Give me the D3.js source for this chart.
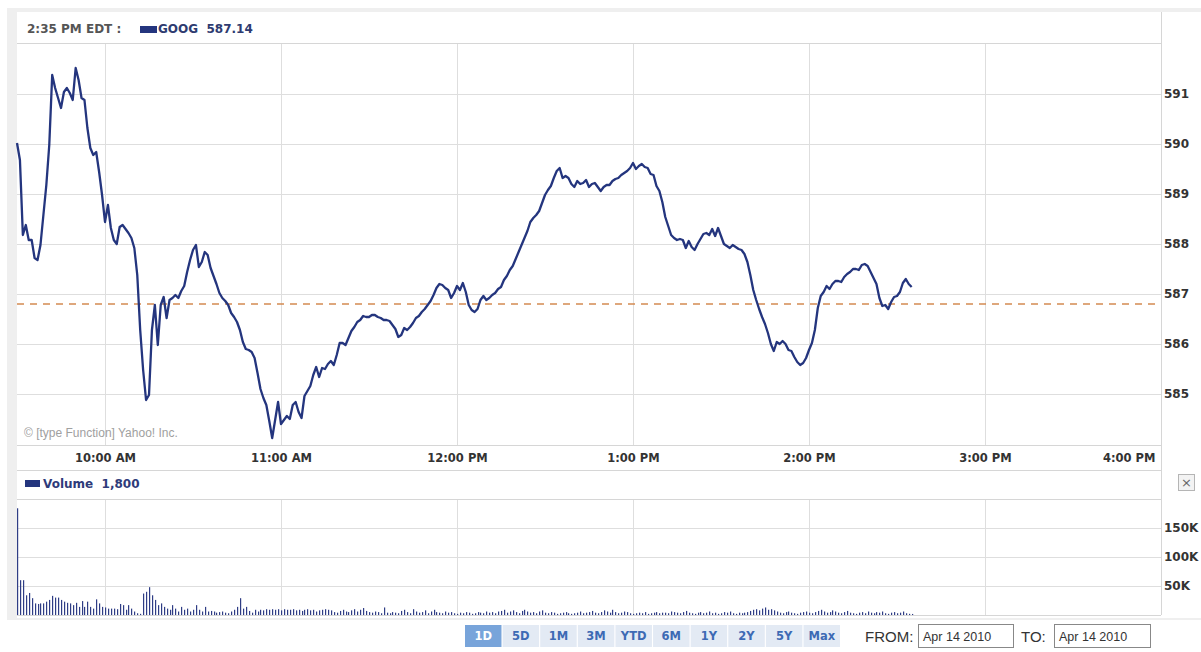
<!DOCTYPE html>
<html>
<head>
<meta charset="utf-8">
<script src="https://cdn.jsdelivr.net/npm/d3@7"></script>
<style>
  body { margin: 0; background: #fff; }
  svg { display: block; }
  .lbl { font-family: "DejaVu Sans", Verdana, sans-serif; font-weight: bold; fill: #333; }
</style>
</head>
<body>
<div id="chart"></div>
<script>
// minutes after 9:30 AM, one reading per minute (Apr 14 2010)
const prices = [
  590.02,589.68,588.18,588.38,588.08,588.08,587.72,587.68,587.98,588.58,
  589.18,589.98,591.38,591.12,590.92,590.72,591.04,591.12,591.02,590.88,
  591.52,591.28,590.92,590.88,590.32,589.92,589.78,589.84,589.44,588.98,
  588.44,588.78,588.32,588.08,588.00,588.34,588.38,588.30,588.22,588.12,
  587.92,587.38,586.28,585.48,584.88,584.98,586.28,586.78,585.98,586.78,
  586.94,586.52,586.88,586.92,586.98,586.92,587.06,587.16,587.44,587.68,
  587.88,587.98,587.54,587.64,587.84,587.78,587.52,587.36,587.20,587.02,
  586.92,586.86,586.78,586.62,586.54,586.44,586.28,586.04,585.90,585.88,
  585.84,585.72,585.42,585.10,584.92,584.78,584.46,584.12,584.48,584.84,
  584.40,584.48,584.56,584.50,584.78,584.84,584.64,584.52,584.96,585.06,
  585.16,585.38,585.54,585.34,585.52,585.50,585.60,585.66,585.58,585.78,
  586.02,586.02,585.98,586.12,586.26,586.34,586.44,586.48,586.56,586.54,
  586.54,586.58,586.58,586.54,586.52,586.48,586.48,586.46,586.38,586.30,
  586.14,586.18,586.32,586.28,586.34,586.42,586.52,586.56,586.64,586.70,
  586.78,586.86,586.98,587.12,587.20,587.18,587.12,587.08,586.92,587.02,
  587.16,587.08,587.22,587.04,586.78,586.68,586.64,586.70,586.88,586.96,
  586.88,586.92,586.98,587.02,587.10,587.14,587.28,587.36,587.48,587.56,
  587.70,587.84,587.98,588.12,588.26,588.44,588.52,588.58,588.66,588.82,
  588.98,589.08,589.16,589.32,589.46,589.52,589.32,589.36,589.32,589.20,
  589.14,589.26,589.20,589.22,589.28,589.14,589.20,589.22,589.14,589.06,
  589.14,589.18,589.18,589.26,589.30,589.32,589.38,589.42,589.46,589.52,
  589.62,589.50,589.56,589.60,589.54,589.52,589.40,589.38,589.16,589.06,
  588.84,588.54,588.36,588.18,588.12,588.08,588.10,588.08,587.92,588.06,
  587.94,587.88,588.00,588.10,588.20,588.22,588.18,588.30,588.16,588.32,
  588.16,588.00,587.96,587.92,587.98,587.94,587.90,587.88,587.80,587.64,
  587.38,587.08,586.88,586.70,586.54,586.40,586.22,586.00,585.86,586.04,
  586.00,586.06,586.00,585.88,585.86,585.74,585.64,585.58,585.62,585.72,
  585.88,586.02,586.28,586.72,586.96,587.04,587.16,587.10,587.20,587.26,
  587.26,587.24,587.34,587.40,587.44,587.50,587.50,587.48,587.58,587.60,
  587.56,587.44,587.32,587.20,586.92,586.76,586.78,586.70,586.84,586.94,
  586.96,587.04,587.22,587.30,587.20,587.14
];

// volume per minute, thousands of shares
const volumes = [
  184,60,60,34,38,29,20,19,20,20,23,26,33,30,30,26,23,21,20,17,
  21,14,24,14,23,14,11,27,20,14,13,11,11,11,10,19,17,9,17,11,
  6,3,2,37,40,48,34,26,17,20,14,11,9,17,11,6,14,9,11,6,
  9,17,9,6,14,6,7,6,4,5,6,4,3,6,9,14,29,11,14,7,
  4,9,6,9,8,10,9,10,
  9,10,8,10,9,9,10,8,9,7,9,10,8,9,6,8,9,10,9,8,5,4,7,9,6,5,8,10,6,9,12,7,5,
  4,6,5,3,13,4,3,5,4,3,7,9,5,3,10,6,4,5,8,3,6,9,5,4,3,6,4,5,3,2,4,3,5,4,2,3,5,4,3,6,
  4,5,3,6,7,9,4,6,8,5,3,7,9,6,4,5,3,6,8,4,3,5,4,2,3,4,5,3,2,3,
  4,6,3,4,5,7,4,3,5,8,6,4,9,5,3,4,6,5,3,2,3,4,3,5,2,3,4,5,3,4,
  4,3,6,5,4,3,5,7,4,3,2,4,5,3,4,6,3,4,2,3,5,4,6,3,2,4,3,4,5,7,
  9,10,8,11,13,9,10,8,6,4,3,5,6,4,3,2,4,5,6,4,
  3,5,7,9,6,4,5,8,6,4,3,5,7,4,3,2,4,5,3,6,4,3,5,4,6,3,2,4,5,3,4,6,3,2,1.8
];

const priceTicks = [585, 586, 587, 588, 589, 590, 591];
const volumeTicks = [50000, 100000, 150000];
const previousClose = 586.8;
const symbol = "GOOG";
const lastTime = "2:35 PM EDT :";
const ranges = ["1D", "5D", "1M", "3M", "YTD", "6M", "1Y", "2Y", "5Y", "Max"];
const fromDate = "Apr 14 2010", toDate = "Apr 14 2010";

const W = 1201, H = 652;
const left = 17, right = 1161;
const navy = "#24357e";

const open = new Date(2010, 3, 14, 9, 30);
const close = new Date(2010, 3, 14, 16, 0);
const minute = (i) => new Date(open.getTime() + i * 60000);

const svg = d3.select('#chart').append('svg')
              .attr('width', W)
              .attr('height', H);

// frame
svg.append('rect').attr('x', 7).attr('y', 8).attr('width', W - 7).attr('height', 612).attr('fill', '#efefef');
svg.append('rect').attr('x', left).attr('y', 12).attr('width', W - left).attr('height', 606).attr('fill', '#fff');

const x = d3.scaleTime().domain([open, close]).range([left, right]);
const y = d3.scaleLinear().domain([583.98, 592.02]).range([445, 43]);
const yv = d3.scaleLinear().domain([0, 200000]).range([615, 499]);
const hours = x.ticks(d3.timeHour.every(1)).filter(d => d > open);

// ---- price panel ----
const grid = svg.append('g').attr('stroke', '#dedede').attr('stroke-width', 1).attr('shape-rendering', 'crispEdges');
grid.selectAll('.hp').data(priceTicks).enter().append('line')
    .attr('x1', left).attr('x2', right).attr('y1', d => y(d)).attr('y2', d => y(d));
grid.selectAll('.vp').data(hours).enter().append('line')
    .attr('x1', d => x(d)).attr('x2', d => x(d)).attr('y1', 43).attr('y2', 445);

// panel borders
const borders = svg.append('g').attr('stroke', '#d6d6d6').attr('shape-rendering', 'crispEdges');
[43, 445, 470, 499, 615].forEach(v => {
  borders.append('line').attr('x1', left).attr('x2', right).attr('y1', v).attr('y2', v);
});
borders.append('line').attr('x1', right).attr('x2', right).attr('y1', 12).attr('y2', 615);

// previous close
svg.append('line')
   .attr('x1', left).attr('x2', right)
   .attr('y1', y(previousClose)).attr('y2', y(previousClose))
   .attr('stroke', '#d48a52').attr('stroke-width', 1.3)
   .attr('stroke-dasharray', '7,6');

// copyright
svg.append('text').attr('x', 24).attr('y', 437)
   .attr('font-family', '"Liberation Sans", Arial, sans-serif').attr('font-size', 12)
   .attr('fill', '#a0a0a0').text('\u00a9 [type Function] Yahoo! Inc.');

const line = d3.line().x((d, i) => x(minute(i))).y(d => y(d));
svg.append('path').datum(prices)
   .attr('d', line)
   .attr('fill', 'none')
   .attr('stroke', navy)
   .attr('stroke-width', 2.3)
   .attr('stroke-linejoin', 'round');

// right price axis
const yAxis = svg.append('g')
   .attr('transform', `translate(${right},0)`)
   .call(d3.axisRight(y).tickValues(priceTicks).tickSize(0).tickPadding(3).tickFormat(d3.format('d')));
yAxis.select('.domain').remove();
yAxis.selectAll('text').attr('class', 'lbl').attr('font-size', 12);

// time axis
const xAxis = svg.append('g')
   .attr('transform', 'translate(0,451)')
   .call(d3.axisBottom(x).tickValues(hours).tickSize(0).tickFormat(d3.timeFormat('%-I:%M %p')));
xAxis.select('.domain').remove();
xAxis.selectAll('text').attr('class', 'lbl').attr('font-size', 11.5).attr('dy', '0.71em');
xAxis.selectAll('.tick').filter(d => +d === +close).select('text')
     .attr('text-anchor', 'end').attr('x', -6);

// header
const headFont = '"DejaVu Sans", Verdana, sans-serif';
svg.append('text').attr('x', 27).attr('y', 33)
   .attr('font-family', headFont).attr('font-weight', 'bold').attr('font-size', 12)
   .attr('fill', '#555').text(lastTime);
svg.append('rect').attr('x', 140).attr('y', 26).attr('width', 17).attr('height', 7).attr('fill', navy);
svg.append('text').attr('x', 158).attr('y', 33)
   .attr('font-family', headFont).attr('font-weight', 'bold').attr('font-size', 12)
   .attr('fill', '#2e3b70').attr('xml:space', 'preserve')
   .text(symbol + '  ' + prices[prices.length - 1].toFixed(2));

// ---- volume panel ----
grid.selectAll('.hv').data(volumeTicks).enter().append('line')
    .attr('x1', left).attr('x2', right).attr('y1', d => yv(d)).attr('y2', d => yv(d));
grid.selectAll('.vv').data(hours).enter().append('line')
    .attr('x1', d => x(d)).attr('x2', d => x(d)).attr('y1', 499).attr('y2', 615);

svg.append('g').selectAll('rect').data(volumes).enter().append('rect')
   .attr('x', (d, i) => Math.round(x(minute(i))))
   .attr('width', 1.2)
   .attr('y', d => yv(d * 1000))
   .attr('height', d => yv(0) - yv(d * 1000))
   .attr('fill', '#2f3d85');

const vAxis = svg.append('g')
   .attr('transform', `translate(${right},0)`)
   .call(d3.axisRight(yv).tickValues(volumeTicks).tickSize(0).tickPadding(3).tickFormat(d => (d / 1000) + 'K'));
vAxis.select('.domain').remove();
vAxis.selectAll('text').attr('class', 'lbl').attr('font-size', 12);

svg.append('rect').attr('x', 25).attr('y', 480).attr('width', 15).attr('height', 7).attr('fill', navy);
svg.append('text').attr('x', 43).attr('y', 488)
   .attr('font-family', headFont).attr('font-weight', 'bold').attr('font-size', 12)
   .attr('fill', '#2e3b7a').attr('xml:space', 'preserve')
   .text('Volume  ' + d3.format(',')(volumes[volumes.length - 1] * 1000));

// close box
svg.append('rect').attr('x', 1178.5).attr('y', 474.5).attr('width', 16).attr('height', 16)
   .attr('fill', '#f3f3f3').attr('stroke', '#b5b5b5');
svg.append('text').attr('x', 1186.5).attr('y', 487).attr('text-anchor', 'middle')
   .attr('font-family', '"DejaVu Sans", sans-serif').attr('font-size', 13).attr('fill', '#666').text('\u00d7');

// ---- range buttons ----
const bx = d3.scaleBand().domain(ranges).range([465, 840]).paddingInner(0.03);
const btn = svg.append('g').selectAll('g').data(ranges).enter().append('g')
   .attr('transform', d => `translate(${bx(d)},625)`);
btn.append('rect').attr('width', bx.bandwidth()).attr('height', 22)
   .attr('fill', d => d === '1D' ? '#78a4da' : '#e3eaf4');
btn.append('text').attr('x', bx.bandwidth() / 2).attr('y', 15).attr('text-anchor', 'middle')
   .attr('font-family', headFont).attr('font-weight', 'bold').attr('font-size', 11.5)
   .attr('fill', d => d === '1D' ? '#fff' : '#3d6ab4')
   .text(d => d);

// date inputs
const dateFont = '"Liberation Sans", Arial, sans-serif';
svg.append('text').attr('x', 865).attr('y', 642).attr('font-family', dateFont).attr('font-size', 15)
   .attr('fill', '#333').text('FROM:');
svg.append('rect').attr('x', 918.5).attr('y', 624.5).attr('width', 95).attr('height', 23)
   .attr('fill', '#fff').attr('stroke', '#888');
svg.append('text').attr('x', 923).attr('y', 641).attr('font-family', dateFont).attr('font-size', 12.5)
   .attr('fill', '#333').text(fromDate);
svg.append('text').attr('x', 1021).attr('y', 642).attr('font-family', dateFont).attr('font-size', 15)
   .attr('fill', '#333').text('TO:');
svg.append('rect').attr('x', 1054.5).attr('y', 624.5).attr('width', 96).attr('height', 23)
   .attr('fill', '#fff').attr('stroke', '#888');
svg.append('text').attr('x', 1059).attr('y', 641).attr('font-family', dateFont).attr('font-size', 12.5)
   .attr('fill', '#333').text(toDate);
</script>
</body>
</html>
